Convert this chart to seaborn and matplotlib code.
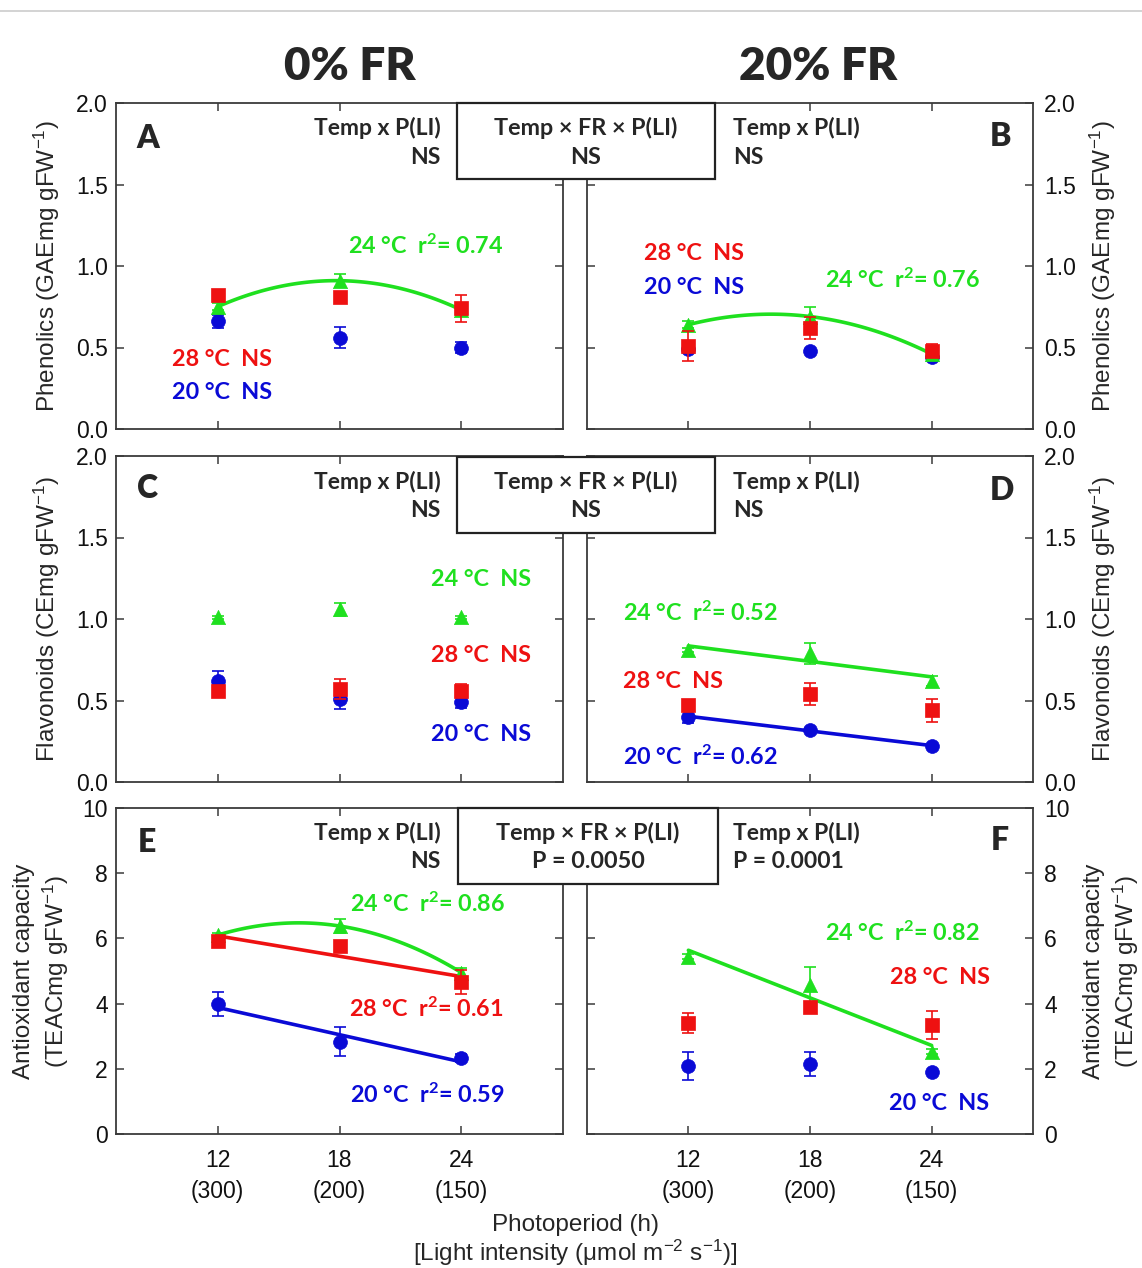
import numpy as np
import pandas as pd
import matplotlib
matplotlib.use("Agg")
import matplotlib.pyplot as plt
from matplotlib.patches import Rectangle
from matplotlib.lines import Line2D
import seaborn as sns

# ---------------- data ----------------
photoperiod = [12, 18, 24]
light_intensity = ["(300)", "(200)", "(150)"]
temps = [20, 24, 28]

# Phenolics, 0% FR (A)
A_20 = [0.66, 0.56, 0.50]; A_20_err = [0.04, 0.065, 0.035]
A_24 = [0.75, 0.91, 0.73]; A_24_err = [0.02, 0.04, 0.02]
A_28 = [0.82, 0.81, 0.74]; A_28_err = [0.02, 0.03, 0.085]
# Phenolics, 20% FR (B)
B_20 = [0.49, 0.48, 0.44]; B_20_err = [0.02, 0.01, 0.02]
B_24 = [0.64, 0.69, 0.46]; B_24_err = [0.02, 0.06, 0.02]
B_28 = [0.51, 0.62, 0.48]; B_28_err = [0.09, 0.065, 0.04]
# Flavonoids, 0% FR (C)
C_20 = [0.62, 0.51, 0.49]; C_20_err = [0.06, 0.065, 0.035]
C_24 = [1.01, 1.06, 1.01]; C_24_err = [0.01, 0.04, 0.01]
C_28 = [0.56, 0.57, 0.56]; C_28_err = [0.02, 0.06, 0.04]
# Flavonoids, 20% FR (D)
D_20 = [0.40, 0.32, 0.22]; D_20_err = [0.04, 0.01, 0.01]
D_24 = [0.81, 0.79, 0.62]; D_24_err = [0.01, 0.065, 0.03]
D_28 = [0.47, 0.54, 0.44]; D_28_err = [0.03, 0.07, 0.07]
# Antioxidant capacity, 0% FR (E)
E_20 = [3.99, 2.83, 2.32]; E_20_err = [0.38, 0.45, 0.12]
E_24 = [6.10, 6.38, 4.95]; E_24_err = [0.08, 0.20, 0.15]
E_28 = [5.92, 5.77, 4.67]; E_28_err = [0.10, 0.10, 0.37]
# Antioxidant capacity, 20% FR (F)
F_20 = [2.09, 2.15, 1.89]; F_20_err = [0.43, 0.37, 0.05]
F_24 = [5.44, 4.57, 2.52]; F_24_err = [0.08, 0.56, 0.08]
F_28 = [3.41, 3.91, 3.34]; F_28_err = [0.31, 0.15, 0.44]

# regression order per panel/temperature (only significant fits drawn)
fit_A = {24: 2}
fit_B = {24: 2}
fit_C = {}
fit_D = {24: 1, 20: 1}
fit_E = {24: 2, 28: 1, 20: 1}
fit_F = {24: 1}

interaction_box = ["NS", "NS", "P = 0.0050"]
interaction_left = ["NS", "NS", "NS"]
interaction_right = ["NS", "NS", "P = 0.0001"]

ylabels = ["Phenolics (GAEmg gFW$^{-1}$)",
           "Flavonoids (CEmg gFW$^{-1}$)",
           "Antioxidant capacity\n(TEACmg gFW$^{-1}$)"]

# ---------------- style ----------------
sns.set_style("ticks")
plt.rcParams['font.family'] = ['Liberation Sans', 'DejaVu Sans']
plt.rcParams['mathtext.default'] = 'regular'

COL = {20: '#0a0ad6', 24: '#1fe01f', 28: '#ee1111'}
MRK = {20: 'o', 24: '^', 28: 's'}
SIZE = {20: 100, 24: 105, 28: 95}
ZO = {20: 3, 24: 4, 28: 5}
BOLD = dict(family=['Lato', 'DejaVu Sans'], weight='bold')
HEAVY = dict(family=['Lato', 'DejaVu Sans'], weight='heavy')

W, H = 1142, 1268
fig = plt.figure(figsize=(W / 100, H / 100), dpi=100)


def fx(px):
    return px / W


def fy(py):
    return 1 - py / H


def ptext(x, y, s, **kw):
    fig.text(fx(x), fy(y), s, **kw)


panels = {
    'A': (A_20, A_20_err, A_24, A_24_err, A_28, A_28_err, fit_A),
    'B': (B_20, B_20_err, B_24, B_24_err, B_28, B_28_err, fit_B),
    'C': (C_20, C_20_err, C_24, C_24_err, C_28, C_28_err, fit_C),
    'D': (D_20, D_20_err, D_24, D_24_err, D_28, D_28_err, fit_D),
    'E': (E_20, E_20_err, E_24, E_24_err, E_28, E_28_err, fit_E),
    'F': (F_20, F_20_err, F_24, F_24_err, F_28, F_28_err, fit_F),
}
order = [['A', 'B'], ['C', 'D'], ['E', 'F']]
cols_px = [(116, 563), (587, 1033)]
rows_px = [(103, 429), (456, 782), (808, 1134)]
ylims = [(0, 2), (0, 2), (0, 10)]
yticks = [np.arange(0, 2.01, 0.5), np.arange(0, 2.01, 0.5), np.arange(0, 10.1, 2)]
yfmt = ['{:.1f}', '{:.1f}', '{:.0f}']

for ri, row in enumerate(order):
    t, b = rows_px[ri]
    for ci, key in enumerate(row):
        l, r = cols_px[ci]
        ax = fig.add_axes([fx(l), fy(b), (r - l) / W, (b - t) / H])
        v20, e20, v24, e24, v28, e28, fits = panels[key]
        df = pd.DataFrame({
            'photoperiod': photoperiod * 3,
            'temp': np.repeat(temps, 3),
            'value': v20 + v24 + v28,
            'err': e20 + e24 + e28,
        })
        for tmp in temps:
            d = df[df['temp'] == tmp]
            if tmp in fits:
                sns.regplot(data=d, x='photoperiod', y='value', order=fits[tmp],
                            ci=None, scatter=False, truncate=True, ax=ax,
                            line_kws=dict(color=COL[tmp], lw=2.6, zorder=2))
        for tmp in temps:
            d = df[df['temp'] == tmp]
            ax.errorbar(d['photoperiod'], d['value'], yerr=d['err'], fmt='none',
                        ecolor=COL[tmp], elinewidth=1.2, capsize=4, capthick=1.2,
                        zorder=ZO[tmp])
            sns.scatterplot(data=d, x='photoperiod', y='value', marker=MRK[tmp],
                            color=COL[tmp], edgecolor=COL[tmp], s=SIZE[tmp],
                            linewidth=0.5, ax=ax, legend=False, zorder=ZO[tmp])
        ax.set_xlim(7, 29)
        ax.set_ylim(*ylims[ri])
        ax.set_xticks(photoperiod)
        ax.set_yticks(yticks[ri])
        ax.set_yticklabels([yfmt[ri].format(v) for v in yticks[ri]])
        ax.set_xlabel('')
        ax.set_ylabel('')
        for sp in ax.spines.values():
            sp.set_visible(True)
            sp.set_color('#3a3a3a')
            sp.set_linewidth(1.3)
        ax.tick_params(direction='in', length=6, width=1.1, color='#3a3a3a',
                       top=True, bottom=True, left=True, right=True,
                       labelsize=16.5, labelcolor='#111111')
        ax.tick_params(axis='y', pad=6 if ci == 0 else 8)
        if ci == 1:
            ax.tick_params(labelleft=False, labelright=True)
        if ri == 2:
            ax.set_xticklabels([f"{p}\n{li}" for p, li in zip(photoperiod, light_intensity)],
                               linespacing=1.45)
            ax.tick_params(axis='x', pad=11)
        else:
            ax.tick_params(labelbottom=False)

# ---------------- texts ----------------
ptext(350, 66, "0% FR", ha='center', va='center', fontsize=33, **HEAVY)
ptext(818, 66, "20% FR", ha='center', va='center', fontsize=33, **HEAVY)

letters = [('A', 148, 138), ('B', 1000, 137), ('C', 147, 489),
           ('D', 1002, 490), ('E', 147, 842), ('F', 1000, 840)]
for s, x, y in letters:
    ptext(x, y, s, ha='center', va='center', fontsize=23, **HEAVY)

# interaction texts & boxes
box_rows = [(103, 179, 457, 715), (457, 533, 457, 715), (808, 884, 458, 718)]
for ri, (bt, bb, bl, br) in enumerate(box_rows):
    fig.add_artist(Rectangle((fx(bl), fy(bb)), (br - bl) / W, (bb - bt) / H,
                             transform=fig.transFigure, facecolor='white',
                             edgecolor='#222222', lw=1.6, zorder=5))
    y1 = bt + 25
    y2 = bt + 54
    cx = (bl + br) / 2
    ptext(cx, y1, "Temp × FR × P(LI)", ha='center', va='center', fontsize=16.8, zorder=6, **BOLD)
    ptext(cx, y2, interaction_box[ri], ha='center', va='center', fontsize=16.8, zorder=6, **BOLD)
    ptext(441, y1, "Temp x P(LI)", ha='right', va='center', fontsize=16.5, **BOLD)
    ptext(441, y2, interaction_left[ri], ha='right', va='center', fontsize=16.5, **BOLD)
    ptext(733, y1, "Temp x P(LI)", ha='left', va='center', fontsize=16.5, **BOLD)
    ptext(733, y2, interaction_right[ri], ha='left', va='center', fontsize=16.5, **BOLD)

R2 = "r$^{2}$= "
annots = [
    (348, 246, "24 °C  " + R2 + "0.74", 24), (172, 359, "28 °C  NS", 28), (172, 392, "20 °C  NS", 20),
    (644, 253, "28 °C  NS", 28), (644, 287, "20 °C  NS", 20), (825, 280, "24 °C  " + R2 + "0.76", 24),
    (431, 580, "24 °C  NS", 24), (431, 655, "28 °C  NS", 28), (431, 735, "20 °C  NS", 20),
    (623, 613, "24 °C  " + R2 + "0.52", 24), (623, 681, "28 °C  NS", 28), (623, 757, "20 °C  " + R2 + "0.62", 20),
    (350, 904, "24 °C  " + R2 + "0.86", 24), (349, 1009, "28 °C  " + R2 + "0.61", 28), (350, 1095, "20 °C  " + R2 + "0.59", 20),
    (825, 933, "24 °C  " + R2 + "0.82", 24), (890, 978, "28 °C  NS", 28), (889, 1104, "20 °C  NS", 20),
]
for x, y, s, tmp in annots:
    ptext(x, y, s, ha='left', va='center', fontsize=16.8, color=COL[tmp], **BOLD)

# y labels
ylab_centers = [266, 619, 971]
for ri in range(3):
    if ri < 2:
        ptext(47, ylab_centers[ri], ylabels[ri], rotation=90, ha='center', va='center', fontsize=17.5)
        ptext(1103, ylab_centers[ri], ylabels[ri], rotation=90, ha='center', va='center', fontsize=17.5)
    else:
        ptext(42, ylab_centers[ri], ylabels[ri], rotation=90, ha='center', va='center',
              fontsize=17.5, linespacing=1.25)
        ptext(1112, ylab_centers[ri], ylabels[ri], rotation=90, ha='center', va='center',
              fontsize=17.5, linespacing=1.25)

# x label
ptext(575, 1225, "Photoperiod (h)", ha='center', va='center', fontsize=17.5)
ptext(575, 1253, "[Light intensity ($\\mu$mol m$^{-2}$ s$^{-1}$)]", ha='center', va='center', fontsize=17.5)

# thin grey rule at top
fig.add_artist(Line2D([0, 1], [fy(11), fy(11)], transform=fig.transFigure,
                      color='#cccccc', lw=1.2))

fig.savefig("out.png", dpi=100, facecolor='white')
